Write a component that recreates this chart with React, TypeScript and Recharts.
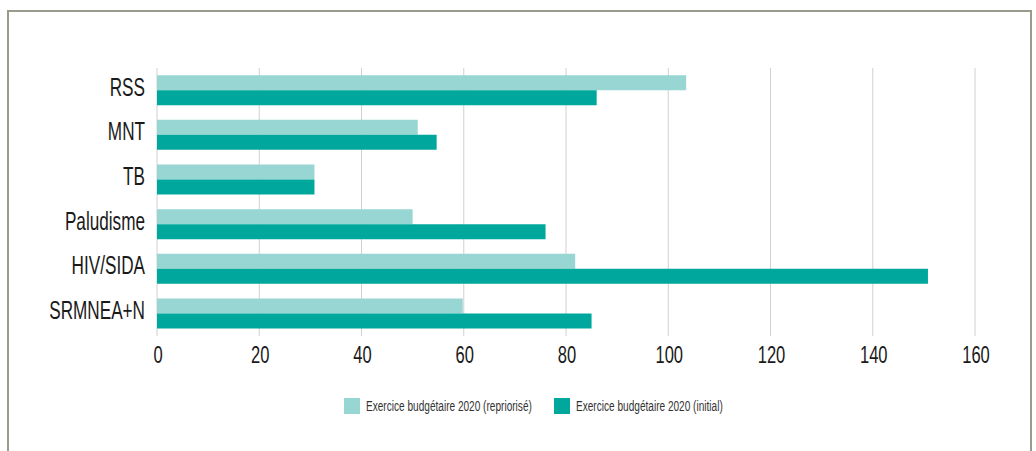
import { BarChart, Bar, XAxis, YAxis, CartesianGrid, Legend } from "recharts";

const categories = ["RSS", "MNT", "TB", "Paludisme", "HIV/SIDA", "SRMNEA+N"];
const reprioritised = [103.5, 51, 30.8, 50, 81.8, 59.8];
const initial = [86, 54.7, 30.8, 76, 150.8, 85];
const xTicks = [0, 20, 40, 60, 80, 100, 120, 140, 160];

const seriesNames = ["Exercice budgétaire 2020 (repriorisé)", "Exercice budgétaire 2020 (initial)"];
const seriesColors = ["#98d6d3", "#00a79d"];

const data = categories.map((name, i) => ({
	name,
	reprioritised: reprioritised[i],
	initial: initial[i],
}));

const FONT = "'Liberation Sans', Arial, sans-serif";

// narrow type, the original uses a condensed face
function YTick({ x, y, payload }: any) {
	return (
		<g transform={`translate(${x},${y - 4})`}>
			<text transform="scale(0.66,1)" textAnchor="end" dy="0.355em" fontSize={26} fill="#1a1a1a" fontFamily={FONT}>
				{payload.value}
			</text>
		</g>
	);
}

function XTick({ x, y, payload }: any) {
	return (
		<g transform={`translate(${x + 1},${y})`}>
			<text transform="scale(0.72,1)" textAnchor="middle" dy="0.71em" fontSize={23} fill="#1a1a1a" fontFamily={FONT}>
				{payload.value}
			</text>
		</g>
	);
}

function LegendBox() {
	const lefts = [344, 554];
	return (
		<div style={{ position: "relative", height: 16, width: 1036 }}>
			{seriesNames.map((n, i) => (
				<div key={n} style={{ position: "absolute", left: lefts[i], top: 0, height: 16, whiteSpace: "nowrap" }}>
					<span
						style={{
							position: "absolute",
							left: 0,
							top: 0,
							width: 16,
							height: 16,
							background: seriesColors[i],
						}}
					/>
					<span
						style={{
							position: "absolute",
							left: 22,
							top: 0,
							lineHeight: "16px",
							fontSize: 14,
							fontFamily: FONT,
							color: "#333",
							transform: "scale(0.72,1)",
							transformOrigin: "left center",
						}}
					>
						{n}
					</span>
				</div>
			))}
		</div>
	);
}

export default function App() {
	return (
		<div style={{ position: "absolute", left: 0, top: 0, width: 1036, height: 451, background: "#fff", overflow: "hidden" }}>
			<div
				style={{
					position: "absolute",
					left: 7,
					top: 10,
					width: 1025,
					height: 460,
					border: "2px solid #9b9b8c",
					boxSizing: "border-box",
				}}
			/>
			<BarChart
				width={1036}
				height={451}
				data={data}
				layout="vertical"
				barCategoryGap="16%"
				barGap={0}
				margin={{ top: 68, right: 61, bottom: 69, left: 0 }}
				style={{ position: "absolute", left: 0, top: 0 }}
			>
				<CartesianGrid horizontal={false} stroke="#d0d0d0" strokeWidth={1} />
				<XAxis
					type="number"
					domain={[0, 160]}
					ticks={xTicks}
					axisLine={false}
					tickLine={false}
					tickMargin={5}
					height={30}
					tick={<XTick />}
				/>
				<YAxis
					type="category"
					dataKey="name"
					width={157}
					axisLine={false}
					tickLine={false}
					tickMargin={6}
					tick={<YTick />}
				/>
				<Legend
					verticalAlign="bottom"
					content={<LegendBox />}
					wrapperStyle={{ left: 0, top: 398, width: 1036, height: 16 }}
				/>
				<Bar dataKey="reprioritised" name={seriesNames[0]} fill={seriesColors[0]} isAnimationActive={false} />
				<Bar dataKey="initial" name={seriesNames[1]} fill={seriesColors[1]} isAnimationActive={false} />
			</BarChart>
		</div>
	);
}
